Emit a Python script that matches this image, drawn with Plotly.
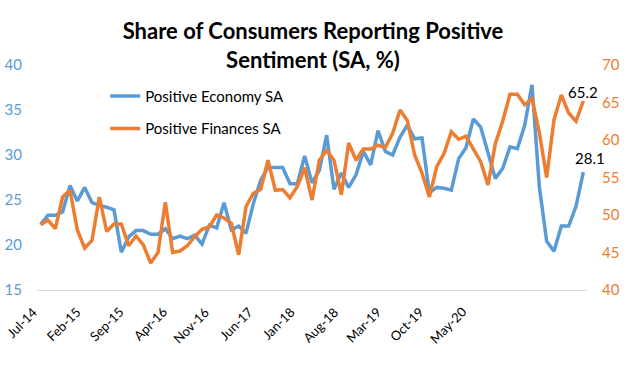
import plotly.graph_objects as go

# Monthly observations, Jul-14 .. Sep-20
economy = [22.3, 23.3, 23.3, 23.7, 26.6, 24.9, 26.4, 24.7, 24.4, 24.2,
           23.9, 19.2, 20.9, 21.6, 21.6, 21.2, 21.2, 21.8, 20.7, 21.0,
           20.7, 21.1, 20.1, 22.2, 21.9, 24.7, 21.7, 22.1, 21.3, 24.6,
           27.2, 28.6, 28.6, 28.6, 26.8, 26.8, 29.9, 26.9, 28.3, 32.2,
           26.2, 28.0, 26.4, 27.8, 30.4, 28.9, 32.7, 30.4, 30.0, 32.0,
           33.3, 31.8, 31.9, 25.8, 26.4, 26.3, 26.1, 29.6, 30.8, 34.0,
           33.1, 30.4, 27.4, 28.5, 30.9, 30.7, 33.3, 37.8, 26.5, 20.4,
           19.3, 22.1, 22.1, 24.3, 28.1]
finances = [48.7, 49.3, 48.2, 52.4, 53.3, 48.0, 45.6, 46.6, 52.4, 47.8,
            48.8, 48.8, 45.9, 47.2, 46.0, 43.6, 45.0, 51.7, 45.0, 45.2,
            45.9, 47.1, 48.1, 48.4, 50.0, 49.6, 48.9, 44.7, 51.1, 52.9,
            53.4, 57.3, 53.3, 53.4, 52.3, 53.8, 56.3, 52.0, 57.3, 58.6,
            57.3, 52.7, 59.6, 57.3, 58.8, 58.8, 59.3, 59.0, 60.9, 64.0,
            62.6, 58.0, 55.6, 52.4, 56.4, 58.2, 61.1, 60.1, 60.5, 58.9,
            57.1, 54.0, 59.5, 62.5, 66.1, 66.1, 64.7, 65.5, 61.0, 55.0,
            62.7, 66.0, 63.6, 62.5, 65.2]
tick_labels = ["Jul-14", "Feb-15", "Sep-15", "Apr-16", "Nov-16", "Jun-17",
               "Jan-18", "Aug-18", "Mar-19", "Oct-19", "May-20"]
left_ticks = [15, 20, 25, 30, 35, 40]
right_ticks = [40, 45, 50, 55, 60, 65, 70]

BLUE = "#5B9BD5"
ORANGE = "#ED7D31"
FONT = "Lato"
LABEL_STEP = 5.85  # label spacing (in categories) as laid out in the source chart

x = list(range(len(economy)))

fig = go.Figure()
fig.add_trace(go.Scatter(x=x, y=economy, mode="lines", name="Positive Economy SA",
                         line=dict(color=BLUE, width=3.5), legendgroup="a"))
fig.add_trace(go.Scatter(x=x, y=finances, mode="lines", name="Positive Finances SA",
                         line=dict(color=ORANGE, width=3.5), yaxis="y2", legendgroup="b"))

# category labels, rotated as in the source
for i, lab in enumerate(tick_labels):
    fig.add_annotation(x=i * LABEL_STEP, y=0, xref="x", yref="paper", text=lab,
                       showarrow=False, textangle=-45, xanchor="right", yanchor="top",
                       xshift=3, yshift=-11,
                       font=dict(family=FONT, size=13, color="black"))

fig.add_annotation(x=x[-1], y=finances[-1], yref="y2", text=f"{finances[-1]:.1f}",
                   showarrow=False, xanchor="center", yanchor="bottom", yshift=-2,
                   font=dict(family=FONT, size=15, color="black"))
fig.add_annotation(x=x[-1], y=economy[-1], yref="y", text=f"{economy[-1]:.1f}",
                   showarrow=False, xanchor="center", yanchor="bottom", xshift=7, yshift=3,
                   font=dict(family=FONT, size=15, color="black"))

fig.update_layout(
    width=626, height=371,
    margin=dict(l=37, r=39, t=65, b=81, autoexpand=False),
    paper_bgcolor="white", plot_bgcolor="white",
    title=dict(text="<b>Share of Consumers Reporting Positive<br>Sentiment (SA, %)</b>",
               x=0.5, xanchor="center", y=0.895, yanchor="top",
               font=dict(family=FONT, size=22, color="black")),
    font=dict(family=FONT),
    showlegend=True,
    legend=dict(x=0.124, xanchor="left", y=0.935, yanchor="top",
                bgcolor="rgba(0,0,0,0)", tracegroupgap=10,
                font=dict(family=FONT, size=15, color="black")),
    xaxis=dict(range=[-0.5, len(economy) - 0.5], showticklabels=False,
               automargin=False, showgrid=False, zeroline=False, showline=True,
               linecolor="#D9D9D9", linewidth=1, ticks=""),
    yaxis=dict(range=[15, 40], tickvals=left_ticks, showgrid=False, zeroline=False,
               tickfont=dict(family=FONT, size=15, color=BLUE), automargin=False,
               ticklabelstandoff=14, showline=False),
    yaxis2=dict(range=[40, 70], tickvals=right_ticks, overlaying="y", side="right",
                showgrid=False, zeroline=False, automargin=False,
                tickfont=dict(family=FONT, size=15, color=ORANGE),
                ticklabelstandoff=14, showline=False),
)

fig.write_html("out.html", config={"displayModeBar": False},
               post_script="document.body.style.margin='0px';")
